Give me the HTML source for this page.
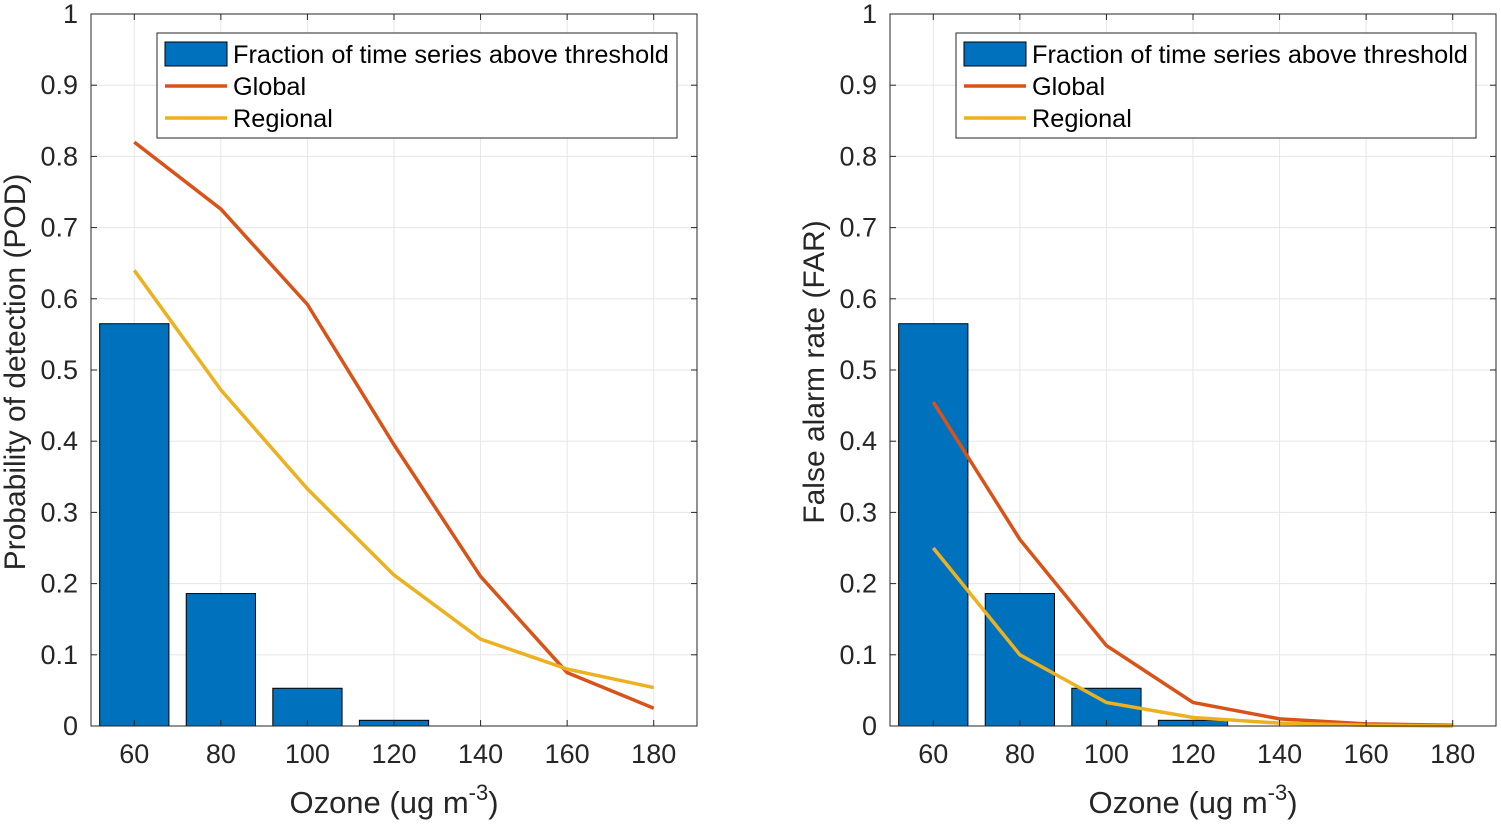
<!DOCTYPE html>
<html><head><meta charset="utf-8"><style>
html,body{margin:0;padding:0;background:#fff;}
svg{display:block;font-family:"Liberation Sans",Helvetica,Arial,sans-serif;}
</style></head><body>
<svg id="c" width="1501" height="824"></svg>
<script>
const categories=[60,80,100,120,140,160,180];
const barValues=[0.565,0.186,0.053,0.008,0,0,0];
const podGlobal=[0.82,0.726,0.592,0.395,0.21,0.075,0.025];
const podRegional=[0.64,0.472,0.333,0.212,0.122,0.08,0.054];
const farGlobal=[0.455,0.262,0.113,0.033,0.01,0.003,0.001];
const farRegional=[0.25,0.1,0.033,0.012,0.004,0.001,0.0];
const yTicks=[0,0.1,0.2,0.3,0.4,0.5,0.6,0.7,0.8,0.9,1];
const yTickLabels=["0","0.1","0.2","0.3","0.4","0.5","0.6","0.7","0.8","0.9","1"];
const xTicks=[60,80,100,120,140,160,180];
const NS="http://www.w3.org/2000/svg";
const svg=document.getElementById('c');
function mk(t,a,p){const e=document.createElementNS(NS,t);for(const k in a)e.setAttribute(k,a[k]);(p||svg).appendChild(e);return e;}
function panel(x0,x1,y0,y1,g1,g2,ylabel,name){
  const g=mk('g',{});
  
  
  const X=v=>x0+(v-50)/(190-50)*(x1-x0);
  const Y=v=>y1-v*(y1-y0);
  yTicks.forEach((t,i)=>{
    const l=mk('line',{x1:x0,x2:x1,y1:Y(t),y2:Y(t),stroke:'#e6e6e6','stroke-width':1},g);
    
    const tx=mk('text',{x:x0-13,y:Y(t)+9,'text-anchor':'end','font-size':27,fill:'#262626'},g);
    tx.textContent=yTickLabels[i];
    
  });
  xTicks.forEach(t=>{
    const l=mk('line',{x1:X(t),x2:X(t),y1:y0,y2:y1,stroke:'#e6e6e6','stroke-width':1},g);
    
    const tx=mk('text',{x:X(t),y:y1+37,'text-anchor':'middle','font-size':27,fill:'#262626'},g);
    tx.textContent=t;
    
  });
  categories.forEach((c,i)=>{
    const v=barValues[i];if(v<=0)return;
    const r=mk('rect',{x:X(c-8),y:Y(v),width:X(c+8)-X(c-8),height:Y(0)-Y(v),fill:'#0072BD',stroke:'#000','stroke-width':1},g);
    
  });
  [[g1,'#D95319','global-line'],[g2,'#EDB120','regional-line']].forEach(([d,col,n])=>{
    const p=mk('polyline',{points:categories.map((c,i)=>X(c)+','+Y(d[i])).join(' '),fill:'none',stroke:col,'stroke-width':3.5},g);
    
  });
  const box=mk('rect',{x:x0,y:y0,width:x1-x0,height:y1-y0,fill:'none',stroke:'#262626','stroke-width':1},g);
  
  for(let t of xTicks){mk('line',{x1:X(t),x2:X(t),y1:y1,y2:y1-6,stroke:'#262626'},g);mk('line',{x1:X(t),x2:X(t),y1:y0,y2:y0+6,stroke:'#262626'},g);}
  for(let t of yTicks){mk('line',{x1:x0,x2:x0+6,y1:Y(t),y2:Y(t),stroke:'#262626'},g);mk('line',{x1:x1,x2:x1-6,y1:Y(t),y2:Y(t),stroke:'#262626'},g);}
  const xl=mk('text',{x:(x0+x1)/2,y:813,'text-anchor':'middle','font-size':31,fill:'#262626'},g);
  xl.innerHTML='Ozone (ug m<tspan dy="-13" font-size="22">-3</tspan><tspan dy="13">)</tspan>';
  
  const cx=x0-66,cy=(y0+y1)/2+2;
  const yl=mk('text',{x:cx,y:cy,'text-anchor':'middle','font-size':30,fill:'#262626',transform:`rotate(-90 ${cx} ${cy})`},g);
  yl.textContent=ylabel;
  
  const lg=mk('g',{},g);
  
  const lx=x0+66;
  mk('rect',{x:lx,y:33,width:520,height:105,fill:'#fff',stroke:'#262626','stroke-width':1},lg);
  mk('rect',{x:lx+8,y:42,width:62,height:24,fill:'#0072BD',stroke:'#000'},lg);
  mk('line',{x1:lx+8,x2:lx+70,y1:86,y2:86,stroke:'#D95319','stroke-width':3.5},lg);
  mk('line',{x1:lx+8,x2:lx+70,y1:118,y2:118,stroke:'#EDB120','stroke-width':3.5},lg);
  [['Fraction of time series above threshold',63],['Global',95],['Regional',127]].forEach(([s,y])=>{
    const t=mk('text',{x:lx+76,y:y,'font-size':25.3,fill:'#000'},lg);t.textContent=s;
    
  });
}
panel(91,697,14,726,podGlobal,podRegional,'Probability of detection (POD)','pod-panel');
panel(890,1496,14,726,farGlobal,farRegional,'False alarm rate (FAR)','far-panel');
</script>
</body></html>
